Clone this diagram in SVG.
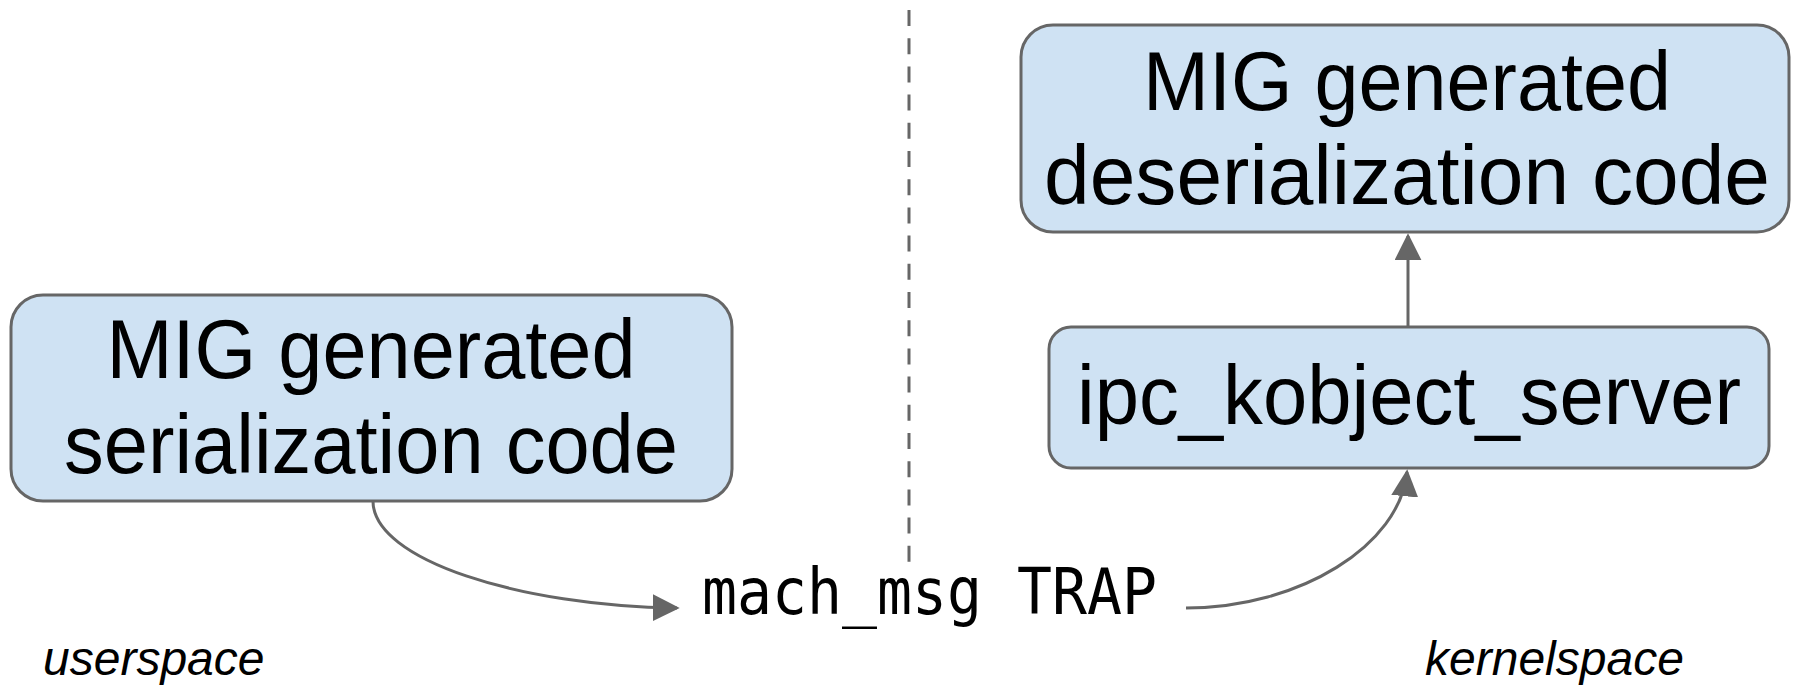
<svg xmlns="http://www.w3.org/2000/svg" width="1793" height="685" viewBox="0 0 1793 685">
<style>
.box{fill:#cfe2f3;stroke:#666666;stroke-width:3}
.lbl{font-family:"Liberation Sans",Arial,sans-serif;font-size:84px;fill:#000;text-anchor:middle}
.conn{fill:none;stroke:#666666;stroke-width:3}
.side{font-family:"Liberation Sans",Arial,sans-serif;font-size:48px;font-style:italic;fill:#000}
.mono{font-family:"DejaVu Sans Mono","Liberation Mono",monospace;font-size:64px;fill:#000}
</style>
<defs>
<marker id="ah" viewBox="0 0 10 10" refX="9" refY="5" markerWidth="9" markerHeight="9" orient="auto">
<path d="M0,0 L10,5 L0,10 z" fill="#666666"/>
</marker>
</defs>
<rect width="1793" height="685" fill="#ffffff"/>
<g id="divider">
<line x1="909" y1="10" x2="909" y2="562" stroke="#666666" stroke-width="3" stroke-dasharray="16 12.2"/>
</g>
<g id="connectors">
<path class="conn" d="M373,501 C373,560 520,606 677,608" marker-end="url(#ah)"/>
<path class="conn" d="M1186,608 C1300,608 1400,545 1407,472" marker-end="url(#ah)"/>
<path class="conn" d="M1408,327 L1408,236" marker-end="url(#ah)"/>
</g>
<g id="serialization">
<rect class="box" x="11" y="295" width="721" height="206" rx="32"/>
<text class="lbl" x="371" y="378" textLength="529" lengthAdjust="spacingAndGlyphs">MIG generated</text>
<text class="lbl" x="371" y="473" textLength="614" lengthAdjust="spacingAndGlyphs">serialization code</text>
</g>
<g id="deserialization">
<rect class="box" x="1021" y="25" width="768" height="207" rx="32"/>
<text class="lbl" x="1407" y="110" textLength="528" lengthAdjust="spacingAndGlyphs">MIG generated</text>
<text class="lbl" x="1407" y="204" textLength="726" lengthAdjust="spacingAndGlyphs">deserialization code</text>
</g>
<g id="ipc_kobject_server">
<rect class="box" x="1049" y="327" width="720" height="141" rx="22"/>
<text class="lbl" x="1409" y="424" textLength="664" lengthAdjust="spacingAndGlyphs">ipc_kobject_server</text>
</g>
<g id="trap">
<text class="mono" x="702" y="614" textLength="455" lengthAdjust="spacingAndGlyphs">mach_msg TRAP</text>
</g>
<g id="labels">
<text class="side" x="43" y="675">userspace</text>
<text class="side" x="1425" y="675">kernelspace</text>
</g>
</svg>
